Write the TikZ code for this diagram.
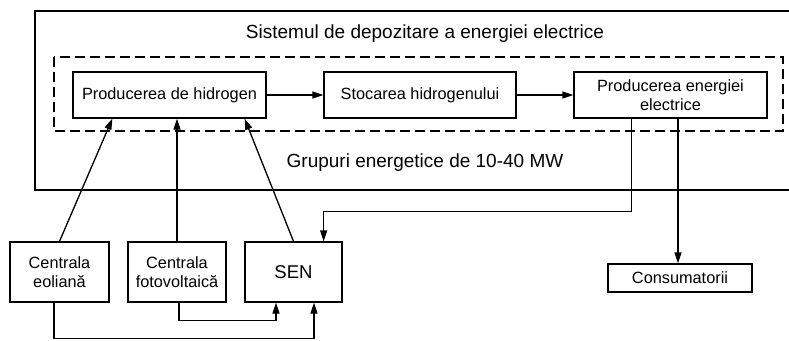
\documentclass[tikz,border=0pt]{standalone}
\usepackage{fontspec}
\setmainfont{Liberation Sans}
\usetikzlibrary{arrows.meta,calc}
\begin{document}
\begin{tikzpicture}[x=1pt,y=-1pt,line width=1.3pt,
  box/.style={draw,line width=1.3pt,inner sep=0pt,align=center,font=\fontsize{16.3}{19.5}\selectfont},
  arr/.style={line width=1.3pt,-{Triangle[length=11pt,width=7pt]}},
  lbl/.style={font=\fontsize{19}{22}\selectfont,inner sep=0pt}]
\useasboundingbox (0,0) rectangle (789,340);
% outer system box (open to the right, beyond the picture edge)
\draw (789,11) -- (35,11) -- (35,190) -- (789,190);
% dashed group box
\draw[dash pattern=on 10pt off 5pt] (54,57) rectangle (783,131);
\node[lbl] (title) at (425,34) {Sistemul de depozitare a energiei electrice};
\node[lbl] (grup) at (425,163) {Grupuri energetice de 10-40 MW};
% boxes
\node[box,minimum width=193pt,minimum height=46pt] (ph) at (169.5,95) {Producerea de hidrogen};
\node[box,minimum width=192pt,minimum height=46pt] (st) at (420,95) {Stocarea hidrogenului};
\node[box,minimum width=193pt,minimum height=46pt] (pe) at (670.5,95) {Producerea energiei\\electrice};
\node[box,minimum width=99pt,minimum height=60pt] (eol) at (59.5,272) {Centrala\\eolian\u{a}};
\node[box,minimum width=98pt,minimum height=60pt] (fot) at (177,272) {Centrala\\fotovoltaic\u{a}};
\node[box,minimum width=97pt,minimum height=60pt,font=\fontsize{18.5}{22}\selectfont] (sen) at (293.5,272) {SEN};
\node[box,minimum width=144pt,minimum height=28pt] (con) at (680,278) {Consumatorii};
% connectors
\draw[arr] (ph.east) -- (st.west);
\draw[arr] (st.east) -- (pe.west);
\draw[arr] (eol.north) -- ([xshift=40pt]ph.south west);
\draw[arr] (fot.north) -- (fot.north |- ph.south);
\draw[arr] (sen.north) -- ([xshift=-22pt]ph.south east);
\draw[arr] ([xshift=58pt]pe.south west) -- ++(0,93) -| ([xshift=-19pt]sen.north east);
\coordinate (ct) at ([xshift=-2pt]con.north);
\draw[arr] (ct |- pe.south) -- (ct);
\draw[arr] ([xshift=2pt]fot.south) -- ++(0,18) -| ([xshift=-17.5pt]sen.south);
\draw[arr] ([xshift=-5.5pt]eol.south) -- ++(0,36) -| ([xshift=20.5pt]sen.south);
\end{tikzpicture}
\end{document}
